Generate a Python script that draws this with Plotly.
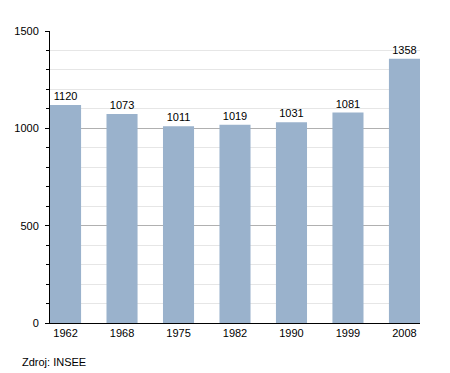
import plotly.graph_objects as go

years = ["1962", "1968", "1975", "1982", "1990", "1999", "2008"]
population = [1120, 1073, 1011, 1019, 1031, 1081, 1358]
y_ticks = [0, 500, 1000, 1500]

FONT = "Liberation Sans, Arial, sans-serif"

fig = go.Figure(go.Bar(
    x=years, y=population,
    marker=dict(color="#9ab2cc", line=dict(width=0)),
    width=0.55,
    text=[str(v) for v in population],
    textposition="outside",
    textfont=dict(size=11, color="#000", family=FONT),
    cliponaxis=False,
))

fig.update_layout(
    width=442, height=365,
    margin=dict(l=42, r=30, t=23, b=50),
    plot_bgcolor="white", paper_bgcolor="white",
    showlegend=False,
    font=dict(family=FONT, size=11, color="#000"),
    xaxis=dict(
        type="category",
        automargin=False,
        range=[-0.275, 6.275],
        showline=True, linecolor="#000", linewidth=1,
        ticks="", showgrid=False,
        tickfont=dict(size=11),
    ),
    yaxis=dict(
        automargin=False,
        range=[0, 1500],
        tickvals=y_ticks,
        ticktext=[str(v) for v in y_ticks],
        showline=True, linecolor="#000", linewidth=1,
        ticks="outside", ticklen=4, tickcolor="#000",
        showgrid=True, gridcolor="#b0b0b0", gridwidth=1,
        zeroline=False,
        ticklabelstandoff=4,
        minor=dict(dtick=100, ticks="outside", ticklen=3, tickcolor="#000",
                   showgrid=True, gridcolor="#e6e6e6", gridwidth=1),
        tickfont=dict(size=11),
    ),
    annotations=[dict(
        text="Zdroj: INSEE", xref="paper", yref="paper",
        x=-0.081, y=-0.134, xanchor="left", yanchor="middle",
        showarrow=False, font=dict(size=11, color="#000"),
    )],
)

fig.write_html("out.html")
